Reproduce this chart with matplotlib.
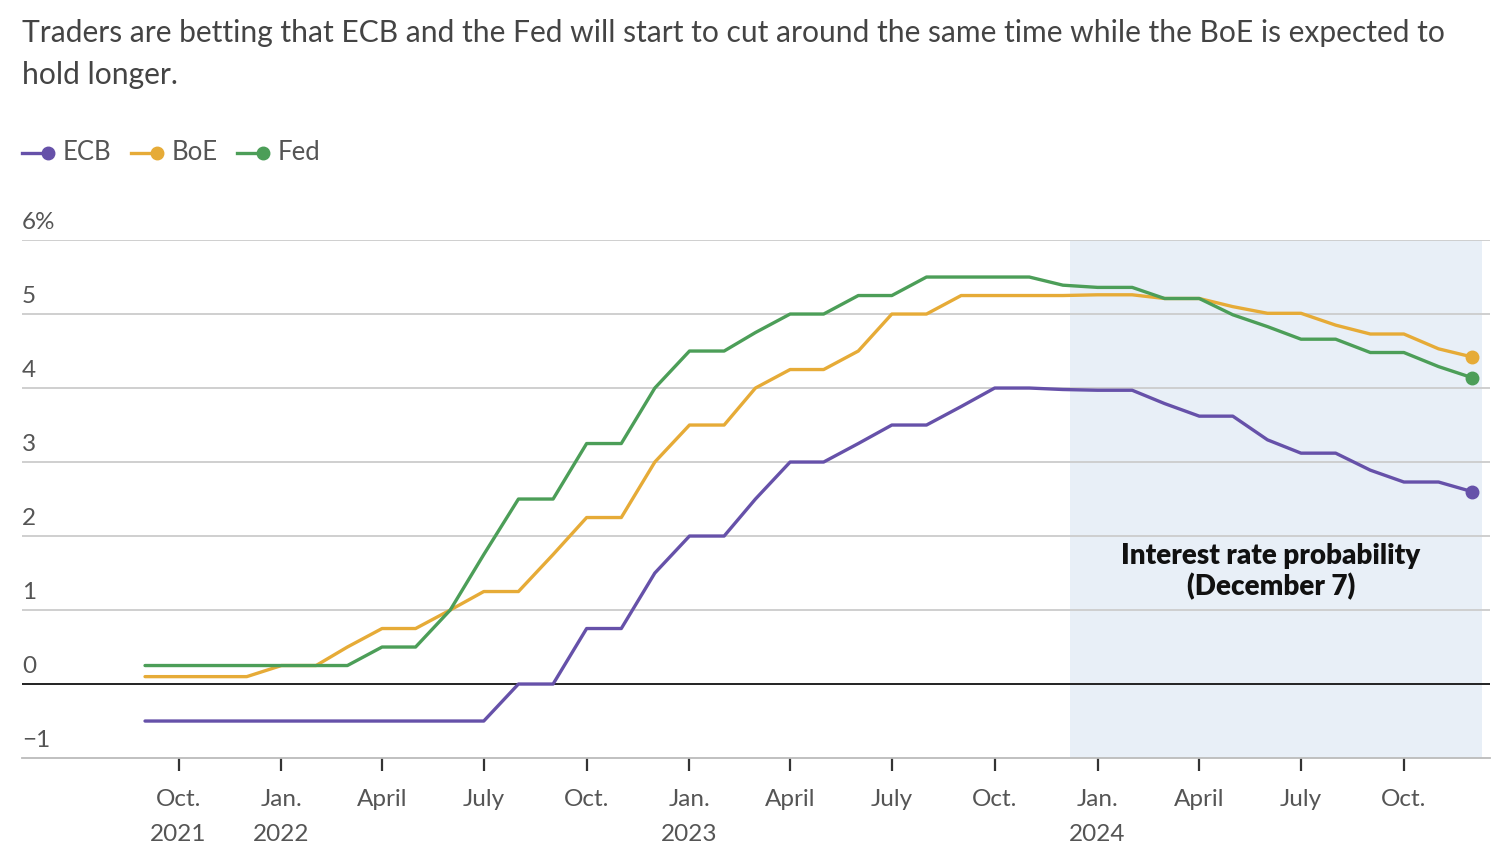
import matplotlib
matplotlib.use("Agg")
import matplotlib.pyplot as plt
import matplotlib.transforms as mtransforms
from matplotlib.lines import Line2D
import pandas as pd

plt.rcParams['font.family'] = ['Lato', 'DejaVu Sans']

# monthly points, Sep 2021 .. Dec 2024
months = pd.date_range("2021-09-01", "2024-12-01", freq="MS")

ecb = [-0.5, -0.5, -0.5, -0.5,
       -0.5, -0.5, -0.5, -0.5, -0.5, -0.5, -0.5, 0.0, 0.0, 0.75, 0.75, 1.5,
       2.0, 2.0, 2.5, 3.0, 3.0, 3.25, 3.5, 3.5, 3.75, 4.0, 4.0, 3.98,
       3.97, 3.97, 3.79, 3.62, 3.62, 3.30, 3.12, 3.12, 2.89, 2.73, 2.73, 2.60]
boe = [0.1, 0.1, 0.1, 0.1,
       0.25, 0.25, 0.5, 0.75, 0.75, 1.0, 1.25, 1.25, 1.75, 2.25, 2.25, 3.0,
       3.5, 3.5, 4.0, 4.25, 4.25, 4.5, 5.0, 5.0, 5.25, 5.25, 5.25, 5.25,
       5.26, 5.26, 5.21, 5.21, 5.10, 5.01, 5.01, 4.85, 4.73, 4.73, 4.53, 4.42]
fed = [0.25, 0.25, 0.25, 0.25,
       0.25, 0.25, 0.25, 0.5, 0.5, 1.0, 1.75, 2.5, 2.5, 3.25, 3.25, 4.0,
       4.5, 4.5, 4.75, 5.0, 5.0, 5.25, 5.25, 5.5, 5.5, 5.5, 5.5, 5.39,
       5.36, 5.36, 5.21, 5.21, 4.99, 4.83, 4.66, 4.66, 4.48, 4.48, 4.29, 4.14]

series = {"ECB": (ecb, "#6651a9"), "BoE": (boe, "#e6ab37"), "Fed": (fed, "#4c9e58")}

tick_dates = pd.date_range("2021-10-01", "2024-10-01", freq="3MS")
tick_labels = ["Oct.\n2021", "Jan.\n2022", "April", "July", "Oct.",
               "Jan.\n2023", "April", "July", "Oct.",
               "Jan.\n2024", "April", "July", "Oct."]
y_ticks = [-1, 0, 1, 2, 3, 4, 5, 6]
y_labels = ["\u22121", "0", "1", "2", "3", "4", "5", "6%"]

shade_start = pd.Timestamp("2023-12-07")
shade_end = pd.Timestamp("2024-12-10")

title = ("Traders are betting that ECB and the Fed will start to cut around the same time while the BoE is expected to\n"
         "hold longer.")

fig = plt.figure(figsize=(15, 8.5), dpi=100)
ax = fig.add_axes([0.0147, 0.1082, 0.9786, 0.6094])

ax.set_xlim(pd.Timestamp("2021-05-14"), pd.Timestamp("2024-12-17"))
ax.set_ylim(-1, 6)

ax.axvspan(shade_start, shade_end, color="#e8eff7", zorder=0, lw=0)

for v in y_ticks[2:]:
    ax.axhline(v, color="#cccccc", lw=1.3, zorder=1)
ax.axhline(0, color="#222222", lw=1.4, zorder=1)

for name, (vals, col) in series.items():
    ax.plot(months, vals, color=col, lw=2.4, zorder=3, solid_capstyle="round")
    ax.plot(months[-1:], vals[-1:], "o", color=col, ms=9, zorder=4)

ax.text(pd.Timestamp("2024-06-04"), 1.52, "Interest rate probability\n(December 7)",
        ha="center", va="center", fontsize=20, fontweight="heavy", color="#111111",
        linespacing=1.2, zorder=5)

for s in ["top", "right", "left"]:
    ax.spines[s].set_visible(False)
ax.spines["bottom"].set_color("#bbbbbb")
ax.spines["bottom"].set_linewidth(1.3)

ax.set_yticks([])
trans = mtransforms.blended_transform_factory(ax.transAxes, ax.transData)
for v, lab in zip(y_ticks, y_labels):
    ax.text(0.0, v + 0.1, lab, transform=trans, ha="left", va="bottom",
            fontsize=17.5, color="#555555")

ax.set_xticks(tick_dates)
ax.set_xticklabels(tick_labels, fontsize=17.5, color="#555555", linespacing=1.85)
ax.tick_params(axis="x", length=9, width=1.6, color="#333333", pad=13)

fig.text(0.0147, 0.978, title, ha="left", va="top", fontsize=21.6,
         color="#444444", linespacing=1.62)

# legend: line with dot at its end
lx = 22
for name, (vals, col) in series.items():
    fig.add_artist(Line2D([lx / 1500, (lx + 26) / 1500], [1 - 153 / 850] * 2,
                          color=col, lw=2.4))
    fig.add_artist(Line2D([(lx + 26) / 1500], [1 - 153 / 850], marker="o",
                          color=col, ms=9))
    t = fig.text((lx + 41) / 1500, 1 - 153 / 850, name, ha="left", va="center",
                 fontsize=18.5, color="#555555")
    fig.canvas.draw()
    bb = t.get_window_extent()
    lx = bb.x1 + 19

fig.savefig("out.png", dpi=100)
